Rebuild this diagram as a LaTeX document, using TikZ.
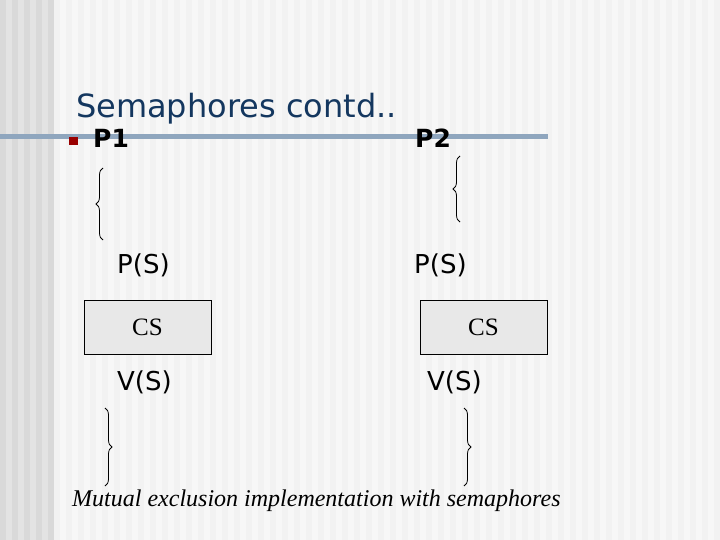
\documentclass[tikz,border=0pt]{standalone}
\usepackage{fontspec}
\setmainfont{Liberation Serif}
\newfontfamily\vfont{DejaVu Sans}
\usetikzlibrary{decorations.pathreplacing}
\definecolor{titleblue}{RGB}{20,55,95}
\definecolor{rulegray}{RGB}{143,166,190}
\definecolor{bulletred}{RGB}{153,0,0}
\definecolor{boxgray}{RGB}{232,232,232}
\tikzset{
  codetxt/.style={font=\vfont\fontsize{26}{30}\selectfont, inner sep=0pt, anchor=base west},
  procname/.style={font=\vfont\bfseries\fontsize{25}{30}\selectfont, inner sep=0pt, anchor=base west},
  csbox/.style={draw, fill=boxgray, minimum width=127pt, minimum height=54pt, inner sep=0pt, font=\fontsize{25}{30}\selectfont},
  bracepath/.style={decorate, decoration={brace, amplitude=7pt}, line width=0.8pt}
}
\begin{document}
\begin{tikzpicture}[x=1pt,y=-1pt]
\useasboundingbox (0,0) rectangle (720,540);
% background stripes
\fill[black!5] (0,0) rectangle (720,540);
\fill[black!11] (0,0) rectangle (54,540);
\foreach \i in {0,12,...,48}
  \fill[black!15] (\i,0) rectangle (\i+6,540);
\foreach \i in {60,72,...,708}
  \fill[black!3] (\i,0) rectangle (\i+6,540);
% title and rule
\node[anchor=base west, inner sep=0pt, text=titleblue, font=\vfont\fontsize{32}{38}\selectfont] (title) at (76,118) {Semaphores contd..};
\draw[rulegray, line width=5pt] (0,137) -- (548,137);
\fill[bulletred] (69,137) rectangle (78,145);
\node[procname] (p1) at (93,148) {P1};
\node[procname] (p2) at (415,148) {P2};
% P1
\draw[bracepath] (103,240) -- (103,168);
\node[codetxt] (p1wait) at (117,273) {P(S)};
\node[csbox] (cs1) at (147.5,327) {CS};
\node[codetxt] (p1sig) at (117,390) {V(S)};
\draw[bracepath] (105,408) -- (105,486);
% P2
\draw[bracepath] (460,222) -- (460,156);
\node[codetxt] (p2wait) at (414,273) {P(S)};
\node[csbox] (cs2) at (483.5,327) {CS};
\node[codetxt] (p2sig) at (427,390) {V(S)};
\draw[bracepath] (464,408) -- (464,486);
% caption
\node[anchor=base west, inner sep=0pt, font=\itshape\fontsize{24}{28}\selectfont] (caption) at (72,506) {Mutual exclusion implementation with semaphores};
\end{tikzpicture}
\end{document}
